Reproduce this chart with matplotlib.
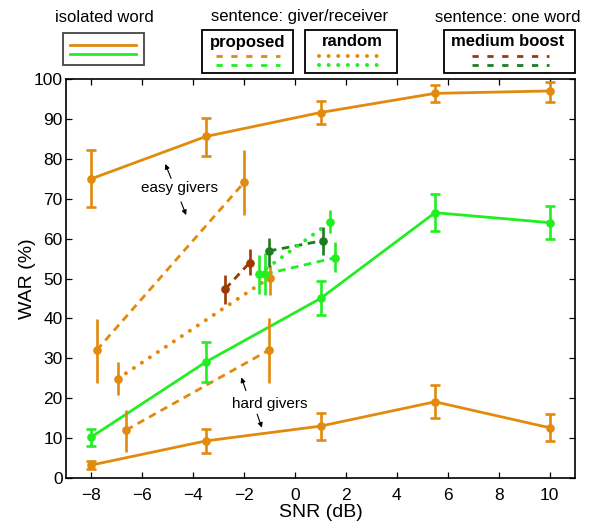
import matplotlib
matplotlib.use('Agg')
import matplotlib.pyplot as plt
from matplotlib.lines import Line2D
from matplotlib.patches import Rectangle

plt.rcParams['font.family'] = ['Liberation Sans', 'DejaVu Sans']
plt.rcParams['lines.scale_dashes'] = False

# isolated word, 5 SNR levels
snr_iso = [-8, -3.5, 1, 5.5, 10]
iso_easy = [75, 85.6, 91.6, 96.4, 97]
iso_easy_lo = [68, 80.75, 88.7, 94.3, 94.3]
iso_easy_hi = [82.25, 90.3, 94.5, 98.5, 99.3]
iso_hard = [3.25, 9.3, 13, 19.1, 12.6]
iso_hard_lo = [2.2, 6.2, 9.6, 15, 9.3]
iso_hard_hi = [4.25, 12.4, 16.2, 23.3, 16]
iso_green = [10.3, 29.1, 45, 66.5, 64]
iso_green_lo = [8, 24.1, 40.8, 61.8, 60]
iso_green_hi = [12.25, 34.1, 49.4, 71.2, 68.1]

# sentence: giver/receiver
prop_easy_x = [-7.8, -2.0]
prop_easy = [32, 74.1]
prop_easy_lo = [23.8, 66]
prop_easy_hi = [39.9, 82.2]
prop_hard_x = [-6.64, -1.04]
prop_hard = [12, 32]
prop_hard_lo = [6.6, 23.8]
prop_hard_hi = [17, 40]
rand_or_x = [-6.96, -1.0]
rand_or = [24.9, 50.2]
rand_or_lo = [20.75, 45.9]
rand_or_hi = [29.1, 53.4]
prop_gr_x = [-1.17, 1.57]
prop_gr = [51.1, 55.2]
prop_gr_lo = [45.9, 51.7]
prop_gr_hi = [56.4, 59.2]
rand_gr_x = [-1.43, 1.38]
rand_gr = [51.1, 64.1]
rand_gr_lo = [46.1, 61.3]
rand_gr_hi = [56, 67.2]

# sentence: one word, medium boost
boost_or_x = [-2.74, -1.78]
boost_or = [47.4, 54]
boost_or_lo = [43.5, 50.9]
boost_or_hi = [50.9, 57.3]
boost_gr_x = [-1.03, 1.1]
boost_gr = [56.9, 59.5]
boost_gr_lo = [53, 55.9]
boost_gr_hi = [60.2, 63]

ORANGE = '#E28A0E'
GREEN = '#22EE22'
BROWN = '#9C3A00'
DGREEN = '#1E7B1E'
DASH = (0, (5.5, 4))
DOT = (0, (0.01, 6.9))

W, H = 592, 524
fig = plt.figure(figsize=(W/100, H/100), dpi=100)
ax = fig.add_axes([66/W, 1-478/H, (575-66)/W, (478-79)/H])

def err(y, lo, hi):
    return [[a-b for a, b in zip(y, lo)], [b-a for a, b in zip(y, hi)]]

def series(x, y, lo, hi, color, ls, caps):
    if ls == DOT:
        ax.plot(x, y, color=color, lw=2.9, ls=ls, dash_capstyle='round', zorder=2)
    else:
        ax.plot(x, y, color=color, lw=2, ls=ls, zorder=2)
    ax.errorbar(x, y, yerr=err(y, lo, hi), fmt='o', color=color, ms=5.2,
                elinewidth=1.9, capsize=3.6 if caps else 0, capthick=1.9, zorder=3)

series(snr_iso, iso_easy, iso_easy_lo, iso_easy_hi, ORANGE, '-', True)
series(snr_iso, iso_hard, iso_hard_lo, iso_hard_hi, ORANGE, '-', True)
series(snr_iso, iso_green, iso_green_lo, iso_green_hi, GREEN, '-', True)
series(prop_easy_x, prop_easy, prop_easy_lo, prop_easy_hi, ORANGE, DASH, False)
series(prop_hard_x, prop_hard, prop_hard_lo, prop_hard_hi, ORANGE, DASH, False)
series(rand_or_x, rand_or, rand_or_lo, rand_or_hi, ORANGE, DOT, False)
series(boost_or_x, boost_or, boost_or_lo, boost_or_hi, BROWN, DASH, False)
series(boost_gr_x, boost_gr, boost_gr_lo, boost_gr_hi, DGREEN, DASH, False)
series(prop_gr_x, prop_gr, prop_gr_lo, prop_gr_hi, GREEN, DASH, False)
series(rand_gr_x, rand_gr, rand_gr_lo, rand_gr_hi, GREEN, DOT, False)

# annotations
ax.text(-4.54, 72.8, 'easy givers', ha='center', va='center', fontsize=11)
ax.text(-0.99, 18.5, 'hard givers', ha='center', va='center', fontsize=11)
aprops = dict(arrowstyle='-|>', lw=0.8, color='black', mutation_scale=7, shrinkA=0, shrinkB=0)
ax.annotate('', xy=(-5.10, 78.7), xytext=(-4.87, 75.1), arrowprops=aprops)
ax.annotate('', xy=(-4.28, 65.9), xytext=(-4.48, 69.2), arrowprops=aprops)
ax.annotate('', xy=(-2.11, 25.2), xytext=(-1.93, 21.9), arrowprops=aprops)
ax.annotate('', xy=(-1.30, 12.6), xytext=(-1.49, 16.0), arrowprops=aprops)

ax.set_xlim(-9, 11)
ax.set_ylim(0, 100)
ax.set_xticks(range(-8, 11, 2))
ax.set_yticks(range(0, 101, 10))
ax.tick_params(direction='in', top=True, right=True, length=4, width=0.9, labelsize=12.5)
ax.tick_params(axis='x', pad=7)
ax.tick_params(axis='y', pad=2.5)
for s in ax.spines.values():
    s.set_linewidth(1.2)
ax.set_xlabel('SNR (dB)', fontsize=14, labelpad=1)
ax.set_ylabel('WAR (%)', fontsize=14, labelpad=-2)

# legend drawn in figure pixel coordinates
def fx(x):
    return x / W

def fy(y):
    return 1 - y / H

def box(x0, x1, y0, y1, ec='black'):
    fig.add_artist(Rectangle((fx(x0), fy(y1)), fx(x1) - fx(x0), fy(y0) - fy(y1),
                             fill=False, ec=ec, lw=1.3, transform=fig.transFigure))

def hline(x0, x1, y, color, ls, lw=2):
    kw = dict(dash_capstyle='round', lw=2.9) if ls == DOT else dict(lw=lw)
    fig.add_artist(Line2D([fx(x0), fx(x1)], [fy(y), fy(y)], color=color, ls=ls,
                          transform=fig.transFigure, **kw))

LDASH = (0, (4.5, 6.2))
fig.text(fx(104), fy(17), 'isolated word', ha='center', va='center', fontsize=12)
box(62.7, 143.7, 33.4, 64.7, ec='#444444')
hline(70, 136, 44.8, ORANGE, '-')
hline(70, 136, 54, GREEN, '-')

fig.text(fx(299.6), fy(17), 'sentence: giver/receiver', ha='center', va='center', fontsize=12)
box(202.2, 292.8, 30.3, 73)
fig.text(fx(248), fy(42), 'proposed', ha='center', va='center', fontsize=12, fontweight='bold')
hline(216, 280, 55.8, ORANGE, LDASH)
hline(216, 280, 65.4, GREEN, LDASH)
box(304.8, 397, 30.3, 73)
fig.text(fx(352.3), fy(42), 'random', ha='center', va='center', fontsize=12, fontweight='bold')
hline(318.6, 377, 55.8, ORANGE, DOT)
hline(318.6, 377, 65.4, GREEN, DOT)

fig.text(fx(508), fy(17), 'sentence: one word', ha='center', va='center', fontsize=12)
box(443.6, 575, 30.3, 73)
fig.text(fx(507.3), fy(42), 'medium boost', ha='center', va='center', fontsize=12, fontweight='bold')
hline(471.8, 549.3, 55.8, BROWN, LDASH)
hline(471.8, 549.3, 65.4, DGREEN, LDASH)

fig.savefig('out.png', dpi=100)
